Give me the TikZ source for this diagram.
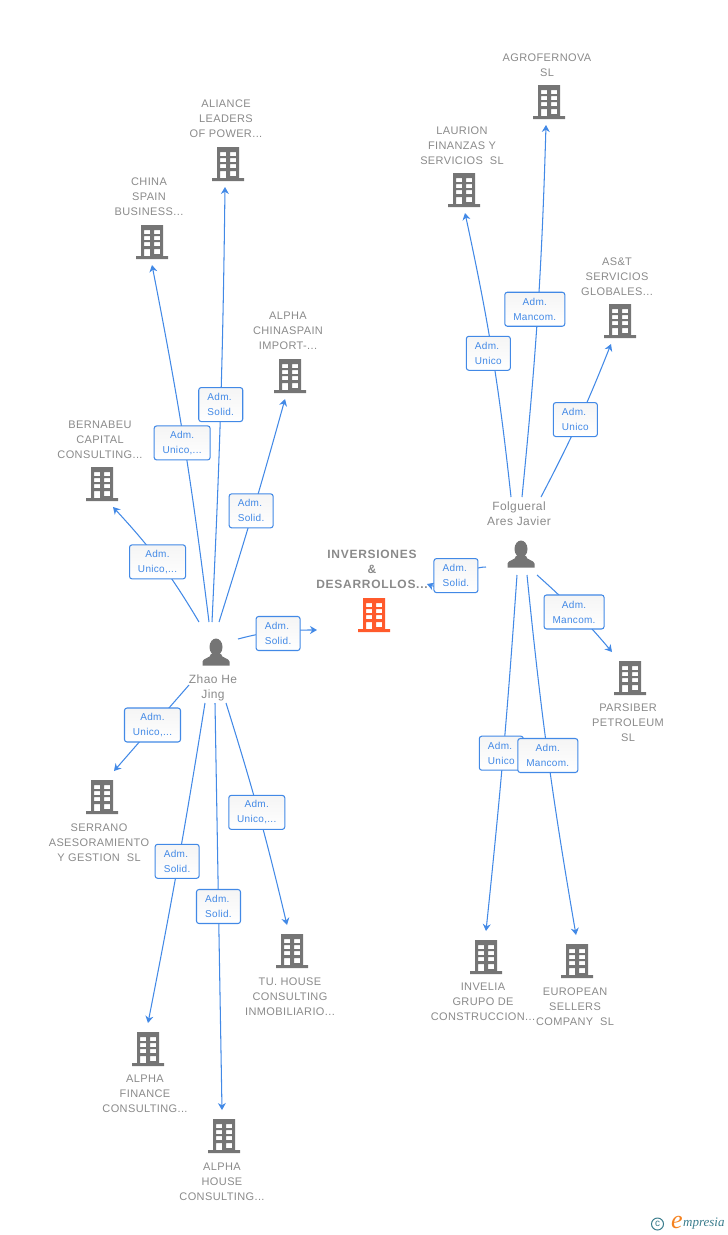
\documentclass[tikz,border=0pt]{standalone}
\usepackage{fontspec}
\setmainfont{Liberation Sans}
\newfontface\headfont{Liberation Sans Bold}[LetterSpace=6]
\newfontface\capfont{Liberation Sans}[LetterSpace=3.5]
\newfontface\tagfont{Liberation Sans}[LetterSpace=3]
\newfontface\logofont{Liberation Serif Italic}
\usetikzlibrary{arrows.meta,positioning}
\definecolor{bldgray}{HTML}{757575}
\definecolor{bldorange}{HTML}{FF5A2C}
\definecolor{capgray}{HTML}{8A8A8A}
\definecolor{linkblue}{HTML}{4289E6}
\definecolor{logoteal}{HTML}{3A7C8C}
\definecolor{logoorange}{HTML}{F58220}

\begin{document}
\begin{tikzpicture}[x=1pt,y=-1pt,
    bld/.style={minimum width=32pt,minimum height=34pt,inner sep=0pt,
      path picture={
        \fill[#1,even odd rule,shift={(path picture bounding box.center)}]
          (-11,-17) rectangle (11,14) (-16,14) rectangle (16,17)
          (-8,-12) rectangle (-2,-8) (2,-12) rectangle (8,-8)
          (-8,-6) rectangle (-2,-2) (2,-6) rectangle (8,-2)
          (-8,0) rectangle (-2,4) (2,0) rectangle (8,4)
          (-8,7) rectangle (-2,14) (2,7) rectangle (8,12);
      }},
    bld/.default=bldgray,
    person/.style={minimum width=28pt,minimum height=28pt,inner sep=0pt,
      path picture={
        \fill[bldgray,shift={(path picture bounding box.center)}]
          (0,-5) ellipse (6.5pt and 8.5pt);
        \fill[bldgray,shift={(path picture bounding box.center)}]
          (-13.5,13.5) -- (-13.5,9.5) .. controls (-13,6) and (-5,6) .. (-5,2)
          -- (5,2) .. controls (5,6) and (13,6) .. (13.5,9.5) -- (13.5,13.5) -- cycle;
      }},
    caption/.style={text=capgray,align=center,inner sep=0pt,yshift=-1pt,
      font=\fontsize{11}{15}\capfont},
    personcaption/.style={caption,font=\fontsize{12}{15}\capfont},
    link/.style={draw=linkblue,line width=1.05pt,-{Stealth[length=7pt,width=8pt]}},
    every edge/.style={link},
    tag/.style={draw=linkblue,line width=1.05pt,rounded corners=2.5pt,top color=black!4,bottom color=white,
      text=linkblue,align=left,inner sep=0pt,minimum width=44pt,minimum height=34pt,
      font=\fontsize{10}{15}\tagfont},
    tagwide/.style={tag,align=center,minimum width=#1},
    tagwide/.default=56pt]
  \useasboundingbox (0,0) rectangle (728,1235);

  \node[bld=bldorange] (inversiones) at (374,615) {};
  \node[text=capgray,align=center,inner sep=0pt,font=\fontsize{12}{15}\headfont] (inversionestext) at (372,569)
    {INVERSIONES\\\&\\DESARROLLOS...};

  \node[person] (zhao) at (216,652) {};
  \node[personcaption] (zhaotext) at (213,686.5) {Zhao He\\Jing};
  \node[person] (folgueral) at (521,554) {};
  \node[personcaption] (folgueraltext) at (519,512.5) {Folgueral\\Ares Javier};

  \node[bld] (aliance) at (228,164) {};
  \node[caption] at (226,118) (aliancetext) {ALIANCE\\LEADERS\\OF POWER...};
  \node[bld] (china) at (152,242) {};
  \node[caption] at (149,196) (chinatext) {CHINA\\SPAIN\\BUSINESS...};
  \node[bld] (bernabeu) at (102,484) {};
  \node[caption] at (100,439) (bernabeutext) {BERNABEU\\CAPITAL\\CONSULTING...};
  \node[bld] (chinaspain) at (290,376) {};
  \node[caption] at (288,330) (chinaspaintext) {ALPHA\\CHINASPAIN\\IMPORT-...};
  \node[bld] (serrano) at (102,797) {};
  \node[caption] at (99,842) (serranotext) {SERRANO\\ASESORAMIENTO\\Y GESTION\ \ SL};
  \node[bld] (finance) at (148,1049) {};
  \node[caption] at (145,1093) (financetext) {ALPHA\\FINANCE\\CONSULTING...};
  \node[bld] (house) at (224,1136) {};
  \node[caption] at (222,1181) (housetext) {ALPHA\\HOUSE\\CONSULTING...};
  \node[bld] (tuhouse) at (292,951) {};
  \node[caption] at (290,996) (tuhousetext) {TU. HOUSE\\CONSULTING\\INMOBILIARIO...};

  \node[bld] (agrofernova) at (549,102) {};
  \node[caption] at (547,64.5) (agrofernovatext) {AGROFERNOVA\\SL};
  \node[bld] (laurion) at (464,190) {};
  \node[caption] at (462,145) (lauriontext) {LAURION\\FINANZAS Y\\SERVICIOS\ \ SL};
  \node[bld] (ast) at (620,321) {};
  \node[caption] at (617,276) (asttext) {AS\&T\\SERVICIOS\\GLOBALES...};
  \node[bld] (parsiber) at (630,678) {};
  \node[caption] at (628,722) (parsibertext) {PARSIBER\\PETROLEUM\\SL};
  \node[bld] (invelia) at (486,957) {};
  \node[caption] at (483,1001) (inveliatext) {INVELIA\\GRUPO DE\\CONSTRUCCION...};
  \node[bld] (european) at (577,961) {};
  \node[caption] at (575,1006) (europeantext) {EUROPEAN\\SELLERS\\COMPANY\ \ SL};

  \path
    ([shift={(-17,-30)}]zhao.center) edge[bend right=6] node[tagwide,xshift=-2pt] (tagbernabeu) {Adm.\\Unico,...} ([shift={(11,23)}]bernabeu.center)
    ([shift={(-7,-30)}]zhao.center) edge[bend right=2] node[tagwide,xshift=-2pt] (tagchina) {Adm.\\Unico,...} ([shift={(0,23)}]china.center)
    ([shift={(-4,-30)}]zhao.center) edge[bend right=1] node[tag] (tagaliance) {Adm.\\Solid.} ([shift={(-3,23)}]aliance.center)
    ([shift={(3,-30)}]zhao.center) edge[bend right=1] node[tag,xshift=-2pt] (tagchinaspain) {Adm.\\Solid.} ([shift={(-5,23)}]chinaspain.center)
    ([shift={(22,-13)}]zhao.center) edge[out=15,in=180] node[tag,xshift=1pt,yshift=-2pt] (taginversiones) {Adm.\\Solid.} ([shift={(-57,15)}]inversiones.center)
    ([shift={(-27,33)}]zhao.center) edge node[tagwide,xshift=1pt,yshift=3pt] (tagserrano) {Adm.\\Unico,...} ([shift={(12,-26)}]serrano.center)
    ([shift={(-11,51)}]zhao.center) edge[bend left=1] node[tag,xshift=-1pt,yshift=2pt] (tagfinance) {Adm.\\Solid.} ([shift={(0,-26)}]finance.center)
    ([shift={(-1,51)}]zhao.center) edge node[tag] (taghouse) {Adm.\\Solid.} ([shift={(-2,-26)}]house.center)
    ([shift={(10,51)}]zhao.center) edge[bend left=2] node[tagwide,xshift=-2pt,yshift=1pt] (tagtuhouse) {Adm.\\Unico,...} ([shift={(-5,-26)}]tuhouse.center);

  \path
    ([shift={(1,-57)}]folgueral.center) edge[bend right=2] node[tagwide=60pt,xshift=-3pt,yshift=2pt] (tagagrofernova) {Adm.\\Mancom.} ([shift={(-3,23)}]agrofernova.center)
    ([shift={(-10,-57)}]folgueral.center) edge[bend right=3] node[tag,xshift=-4pt,yshift=1pt] (taglaurion) {Adm.\\Unico} ([shift={(1,23)}]laurion.center)
    ([shift={(20,-57)}]folgueral.center) edge[bend right=3] node[tag,xshift=-3pt,yshift=2pt] (tagast) {Adm.\\Unico} ([shift={(-9,23)}]ast.center)
    ([shift={(-35,13)}]folgueral.center) edge[out=180,in=-20] node[tag,yshift=3pt] (tagfolgueral) {Adm.\\Solid.} ([shift={(53,-31)}]inversiones.center)
    ([shift={(16,21)}]folgueral.center) edge[bend left=4] node[tagwide=60pt,xshift=-2pt] (tagparsiber) {Adm.\\Mancom.} ([shift={(-18,-26)}]parsiber.center)
    ([shift={(-4,21)}]folgueral.center) edge[bend left=1] node[tag,xshift=-2pt] (taginvelia) {Adm.\\Unico} ([shift={(0,-26)}]invelia.center)
    ([shift={(6,21)}]folgueral.center) edge[bend right=2] node[tagwide=60pt] (tageuropean) {Adm.\\Mancom.} ([shift={(-1,-26)}]european.center);

  \node[draw=logoteal,line width=1pt,circle,minimum size=12pt,inner sep=0pt,text=logoteal,font=\fontsize{10}{10}\selectfont] (logomark) at (657.5,1224) {c};
  \node[text=logoorange,inner sep=0pt,font=\fontsize{26}{26}\logofont] (logoe) at (677,1222) {e};
  \node[text=logoteal,inner sep=0pt,anchor=west,font=\fontsize{13}{13}\logofont] (logotext) at (683,1224) {mpresia};
\end{tikzpicture}
\end{document}
